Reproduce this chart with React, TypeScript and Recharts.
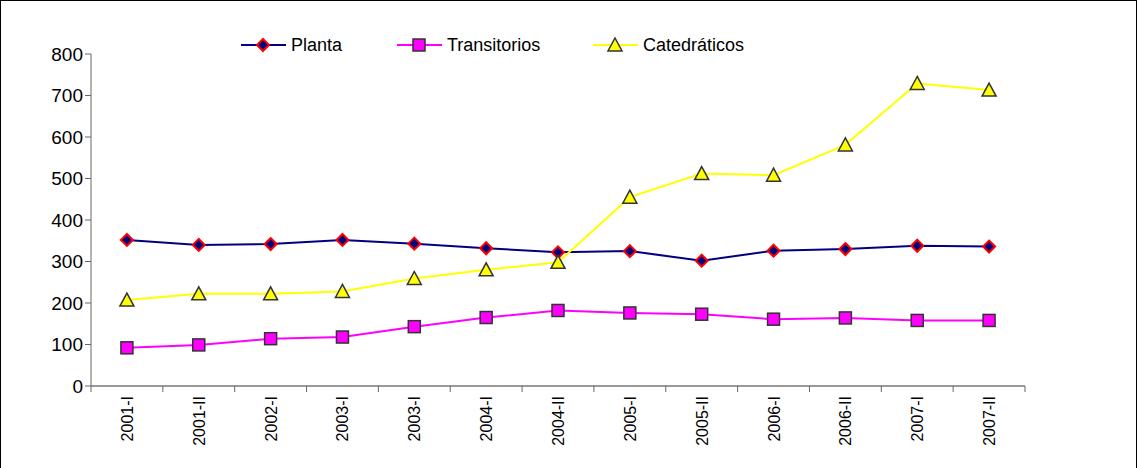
import { LineChart, Line, XAxis, YAxis, Legend } from "recharts";

const periods = ["2001-I", "2001-II", "2002-I", "2003-I", "2003-I", "2004-I", "2004-II", "2005-I", "2005-II", "2006-I", "2006-II", "2007-I", "2007-II"];
const planta = [352, 340, 342, 352, 343, 332, 322, 325, 302, 326, 330, 338, 336];
const transitorios = [92, 99, 114, 118, 143, 165, 182, 176, 173, 161, 164, 158, 158];
const catedraticos = [207, 222, 222, 228, 259, 280, 298, 455, 512, 508, 581, 729, 713];
const yTicks = [0, 100, 200, 300, 400, 500, 600, 700, 800];

const data = periods.map((p, i) => ({ p, Planta: planta[i], Transitorios: transitorios[i], "Catedráticos": catedraticos[i] }));

const HALF = 934 / 13 / 2;

const Diamond = ({ cx, cy }: any) => (
  <polygon points={`${cx},${cy - 6} ${cx + 6},${cy} ${cx},${cy + 6} ${cx - 6},${cy}`} fill="#000080" stroke="#ff0000" strokeWidth={2} />
);
const Square = ({ cx, cy }: any) => (
  <rect x={cx - 6} y={cy - 6} width={12} height={12} fill="#ff00ff" stroke="#333" strokeWidth={1.5} />
);
const Triangle = ({ cx, cy }: any) => (
  <polygon points={`${cx},${cy - 7} ${cx + 7},${cy + 6} ${cx - 7},${cy + 6}`} fill="#ffff00" stroke="#333" strokeWidth={1.5} />
);

const XTick = ({ x, payload, index }: any) => (
  <g>
    <line x1={x - HALF} x2={x - HALF} y1={386} y2={392} stroke="#666" />
    {index === periods.length - 1 && <line x1={x + HALF} x2={x + HALF} y1={386} y2={392} stroke="#666" />}
    <text transform={`translate(${x + 6} 396) rotate(-90)`} textAnchor="end" fontSize={16} fill="#000">
      {payload.value}
    </text>
  </g>
);

const legendItems = [
  { name: "Planta", color: "#000080", Mark: Diamond },
  { name: "Transitorios", color: "#ff00ff", Mark: Square },
  { name: "Catedráticos", color: "#ffff00", Mark: Triangle },
];
const legendX = [241, 397, 593];

const LegendContent = () => (
  <svg width={1137} height={30} style={{ position: "absolute", left: 0, top: 0 }}>
    {legendItems.map((it, i) => (
      <g key={it.name}>
        <line x1={legendX[i]} x2={legendX[i] + 45} y1={15} y2={15} stroke={it.color} strokeWidth={2} />
        <it.Mark cx={legendX[i] + 22} cy={15} />
        <text x={legendX[i] + 50} y={21} fontSize={18} fill="#000">{it.name}</text>
      </g>
    ))}
  </svg>
);

export default function App() {
  return (
    <div style={{ position: "absolute", left: 0, top: 0, width: 1137, height: 468, background: "#fff", fontFamily: "'Liberation Sans', Arial, sans-serif", overflow: "hidden" }}>
      <div style={{ position: "absolute", left: 0, top: 0, width: 1135, height: 480, border: "1px solid #000" }} />
      <LineChart width={1137} height={468} data={data} margin={{ top: 54, right: 112, left: 0, bottom: 0 }}>
        <Legend verticalAlign="top" wrapperStyle={{ top: 30, left: 0 }} content={<LegendContent />} />
        <XAxis dataKey="p" height={82} interval={0} tickLine={false} stroke="#333" tick={<XTick />} padding={{ left: HALF, right: HALF }} />
        <YAxis width={91} domain={[0, 800]} ticks={yTicks} interval={0} stroke="#666" tickSize={6} tick={{ fontSize: 19, fill: "#000" }} />
        <Line dataKey="Planta" stroke="#000080" strokeWidth={2} dot={<Diamond />} isAnimationActive={false} />
        <Line dataKey="Transitorios" stroke="#ff00ff" strokeWidth={2} dot={<Square />} isAnimationActive={false} />
        <Line dataKey="Catedráticos" stroke="#ffff00" strokeWidth={2} dot={<Triangle />} isAnimationActive={false} />
      </LineChart>
    </div>
  );
}
